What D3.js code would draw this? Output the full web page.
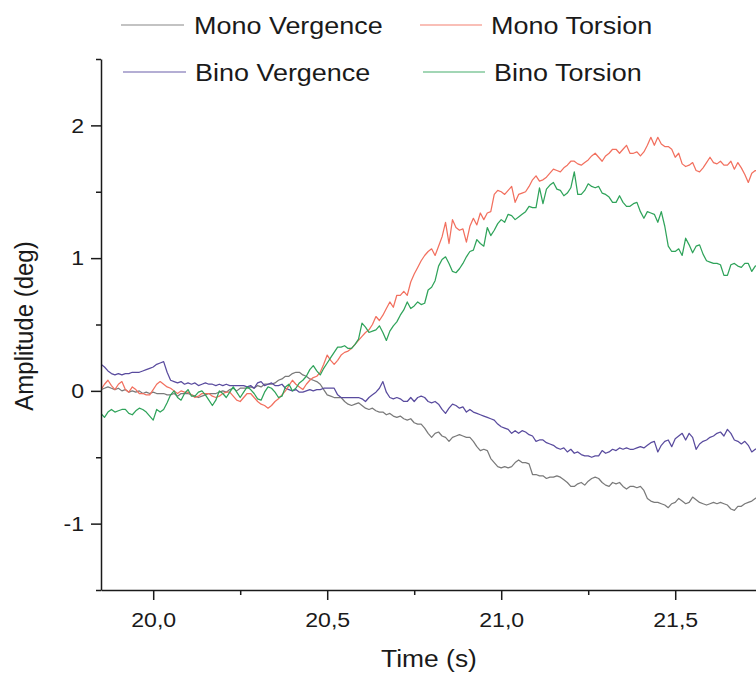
<!DOCTYPE html>
<html><head><meta charset="utf-8">
<script src="https://cdn.jsdelivr.net/npm/d3@7"></script>
<style>
html,body{margin:0;padding:0;background:#fff;}
svg{display:block;}
text{font-family:"Liberation Sans",Arial,Helvetica,sans-serif;fill:#1a1a1a;}
</style></head><body>
<svg id="chart" width="756" height="673"></svg>
<script>
const START_TIME = 19.85;
const SAMPLE_STEP = 0.01;
const seriesNames = ["Mono Vergence", "Mono Torsion", "Bino Vergence", "Bino Torsion"];

const monoVergence = [
 0.01,0.02,0.03,0.02,0.01,0.02,0.00,0.01,-0.01,0.00,
 -0.01,0.00,-0.02,-0.01,-0.02,-0.01,-0.02,-0.02,-0.02,-0.03,
 -0.03,-0.02,-0.04,-0.02,-0.02,-0.02,-0.03,-0.04,-0.05,-0.04,
 -0.03,-0.02,-0.02,-0.02,-0.01,0.00,-0.01,0.01,0.02,0.00,
 0.02,0.02,0.02,0.03,0.02,0.04,0.03,0.05,0.05,0.05,
 0.06,0.08,0.09,0.11,0.11,0.13,0.14,0.14,0.12,0.11,
 0.09,0.08,0.07,0.05,0.01,-0.03,-0.04,-0.05,-0.05,-0.05,
 -0.08,-0.10,-0.11,-0.10,-0.09,-0.11,-0.13,-0.14,-0.13,-0.15,
 -0.16,-0.16,-0.18,-0.17,-0.19,-0.20,-0.19,-0.21,-0.22,-0.21,
 -0.24,-0.25,-0.25,-0.28,-0.32,-0.35,-0.32,-0.31,-0.34,-0.35,
 -0.38,-0.35,-0.34,-0.33,-0.34,-0.35,-0.35,-0.38,-0.42,-0.45,
 -0.44,-0.45,-0.51,-0.54,-0.57,-0.58,-0.57,-0.58,-0.57,-0.54,
 -0.52,-0.54,-0.54,-0.55,-0.63,-0.63,-0.64,-0.64,-0.66,-0.65,
 -0.65,-0.64,-0.65,-0.67,-0.69,-0.72,-0.72,-0.70,-0.69,-0.71,
 -0.68,-0.66,-0.65,-0.66,-0.69,-0.71,-0.72,-0.69,-0.70,-0.69,
 -0.72,-0.74,-0.72,-0.72,-0.73,-0.72,-0.75,-0.81,-0.83,-0.84,
 -0.84,-0.85,-0.86,-0.88,-0.85,-0.84,-0.81,-0.83,-0.85,-0.84,
 -0.80,-0.82,-0.84,-0.85,-0.86,-0.85,-0.84,-0.85,-0.84,-0.85,
 -0.86,-0.89,-0.90,-0.87,-0.87,-0.85,-0.84,-0.83,-0.81,-0.80
];
const monoTorsion = [
 0.01,0.05,0.08,0.04,0.01,0.05,0.07,0.01,-0.01,0.03,
 0.01,-0.02,-0.02,-0.03,-0.03,0.01,0.05,0.07,0.05,0.03,
 0.02,0.00,-0.02,0.00,-0.01,-0.01,-0.03,-0.05,-0.04,-0.02,
 -0.02,-0.02,-0.04,-0.05,-0.04,-0.02,-0.01,-0.01,-0.04,-0.07,
 -0.08,-0.05,-0.02,-0.02,-0.05,-0.08,-0.10,-0.11,-0.13,-0.11,
 -0.08,-0.06,-0.03,0.00,0.04,0.08,0.05,0.03,0.01,0.05,
 0.08,0.10,0.11,0.14,0.20,0.27,0.23,0.20,0.23,0.27,
 0.29,0.30,0.32,0.35,0.38,0.41,0.44,0.46,0.50,0.56,
 0.53,0.57,0.62,0.67,0.63,0.72,0.72,0.75,0.72,0.82,
 0.88,0.93,0.98,1.02,1.05,1.07,1.02,1.09,1.16,1.27,
 1.11,1.29,1.23,1.21,1.22,1.12,1.24,1.30,1.25,1.34,
 1.29,1.34,1.35,1.48,1.51,1.50,1.48,1.51,1.54,1.42,
 1.48,1.49,1.50,1.54,1.59,1.62,1.58,1.59,1.61,1.64,
 1.67,1.66,1.65,1.68,1.70,1.73,1.73,1.71,1.70,1.72,
 1.74,1.77,1.79,1.76,1.73,1.77,1.79,1.82,1.82,1.79,
 1.82,1.85,1.79,1.79,1.80,1.77,1.80,1.85,1.91,1.85,
 1.91,1.86,1.84,1.84,1.82,1.76,1.79,1.71,1.69,1.70,
 1.72,1.66,1.65,1.68,1.72,1.76,1.72,1.71,1.73,1.70,
 1.70,1.73,1.67,1.72,1.68,1.63,1.57,1.64,1.66,1.65
];
const binoVergence = [
 0.20,0.18,0.15,0.13,0.12,0.13,0.12,0.13,0.13,0.14,
 0.14,0.14,0.15,0.16,0.17,0.18,0.20,0.21,0.22,0.14,
 0.08,0.07,0.06,0.07,0.05,0.06,0.05,0.06,0.04,0.05,
 0.06,0.05,0.05,0.04,0.05,0.04,0.05,0.04,0.04,0.04,
 0.04,0.04,0.03,0.04,0.02,0.06,0.07,0.04,0.05,0.06,
 0.04,0.04,0.05,0.02,0.01,0.00,0.01,-0.01,-0.01,0.00,
 0.01,0.00,0.01,0.01,0.02,0.02,0.02,0.02,-0.03,-0.05,
 -0.05,-0.05,-0.05,-0.05,-0.05,-0.06,-0.08,-0.05,-0.03,-0.01,
 0.02,0.07,-0.01,-0.05,-0.06,-0.05,-0.06,-0.08,-0.08,-0.05,
 -0.08,-0.05,-0.04,-0.05,-0.08,-0.09,-0.08,-0.10,-0.14,-0.17,
 -0.13,-0.10,-0.11,-0.13,-0.12,-0.16,-0.14,-0.16,-0.17,-0.18,
 -0.19,-0.20,-0.21,-0.22,-0.25,-0.27,-0.28,-0.29,-0.32,-0.30,
 -0.32,-0.30,-0.31,-0.33,-0.34,-0.38,-0.37,-0.37,-0.39,-0.40,
 -0.41,-0.43,-0.44,-0.43,-0.46,-0.44,-0.47,-0.46,-0.48,-0.49,
 -0.49,-0.50,-0.49,-0.49,-0.45,-0.47,-0.46,-0.44,-0.45,-0.43,
 -0.44,-0.43,-0.44,-0.44,-0.43,-0.42,-0.43,-0.41,-0.39,-0.38,
 -0.46,-0.41,-0.38,-0.37,-0.42,-0.36,-0.34,-0.32,-0.37,-0.32,
 -0.35,-0.44,-0.40,-0.38,-0.37,-0.35,-0.34,-0.32,-0.31,-0.34,
 -0.29,-0.32,-0.37,-0.38,-0.40,-0.38,-0.41,-0.46,-0.44,-0.43
];
const binoTorsion = [
 -0.17,-0.20,-0.16,-0.14,-0.16,-0.15,-0.14,-0.14,-0.17,-0.18,
 -0.15,-0.13,-0.14,-0.16,-0.19,-0.22,-0.14,-0.16,-0.14,-0.09,
 -0.03,0.00,-0.05,-0.07,-0.02,0.01,-0.04,-0.04,-0.01,0.00,
 -0.03,-0.07,-0.11,-0.07,0.00,-0.02,-0.05,-0.01,0.03,-0.01,
 -0.05,-0.01,0.03,0.01,-0.02,-0.06,-0.07,-0.01,0.03,0.02,
 -0.01,-0.05,-0.04,0.03,0.05,0.00,0.02,0.06,0.08,0.11,
 0.16,0.19,0.15,0.12,0.17,0.21,0.25,0.29,0.33,0.33,
 0.34,0.32,0.32,0.35,0.39,0.51,0.48,0.44,0.45,0.46,
 0.49,0.44,0.38,0.45,0.49,0.52,0.57,0.61,0.67,0.62,
 0.64,0.67,0.65,0.66,0.76,0.78,0.83,0.94,0.99,1.01,
 0.96,0.90,0.89,0.92,0.96,1.01,1.05,1.06,1.14,1.11,
 1.09,1.23,1.17,1.21,1.26,1.29,1.27,1.33,1.32,1.29,
 1.31,1.33,1.35,1.39,1.38,1.38,1.53,1.41,1.52,1.55,
 1.57,1.52,1.51,1.47,1.49,1.53,1.65,1.48,1.48,1.51,
 1.56,1.54,1.53,1.54,1.49,1.48,1.46,1.42,1.42,1.47,
 1.42,1.39,1.39,1.41,1.42,1.35,1.30,1.35,1.34,1.33,
 1.27,1.35,1.24,1.09,1.05,1.05,1.07,1.02,1.15,1.10,
 1.04,1.09,1.10,1.03,0.98,0.97,0.96,0.96,0.95,0.87,
 0.87,0.95,0.96,0.94,0.93,0.96,0.96,0.90,0.94,0.95
];

const xTickValues = [20.0, 20.5, 21.0, 21.5];
const xMinorTickValues = [20.25, 20.75, 21.25];
const yTickValues = [-1, 0, 1, 2];
const yMinorTickValues = [-1.5, -0.5, 0.5, 1.5, 2.5];
const xTitle = "Time (s)";
const yTitle = "Amplitude (deg)";

// ---- layout / style ----
const W = 756, H = 673;
const SX = 1.1; // horizontal text stretch seen in the reference
const colors = ["#7a7a7a", "#f2705f", "#594b9e", "#2fa35a"];
const seriesValues = [monoVergence, monoTorsion, binoVergence, binoTorsion];

const svg = d3.select("#chart");
const x = d3.scaleLinear().domain([19.85, 21.735]).range([101, 757]);
const y = d3.scaleLinear().domain([-1.5, 2.5]).range([590, 59]);

svg.append("defs").append("clipPath").attr("id", "clip")
  .append("rect").attr("x", 101).attr("y", 0).attr("width", W - 101).attr("height", 590);

const line = d3.line()
  .x((d, i) => x(START_TIME + i * SAMPLE_STEP))
  .y(d => y(d));

const drawOrder = [0, 2, 1, 3];
svg.append("g").attr("clip-path", "url(#clip)")
  .selectAll("path").data(drawOrder).join("path")
  .attr("d", k => line(seriesValues[k]))
  .attr("fill", "none")
  .attr("stroke", k => colors[k])
  .attr("stroke-width", 1.25)
  .attr("stroke-linejoin", "round");

function stretchText(sel) {
  sel.selectAll("text").each(function () {
    const t = d3.select(this);
    const tx = +t.attr("x") || 0, ty = +t.attr("y") || 0;
    t.attr("x", 0).attr("y", 0).attr("transform", `translate(${tx},${ty}) scale(${SX},1)`);
  });
}
function styleAxis(g) {
  g.selectAll(".domain, .tick line").attr("stroke", "#1a1a1a").attr("stroke-width", 1.5);
  g.selectAll("text").attr("font-family", '"Liberation Sans", Arial, sans-serif').attr("fill", "#1a1a1a");
}
const fmt = d => d3.format(".1f")(d).replace(".", ",");

// x axis
const gx = svg.append("g").attr("transform", "translate(0,590)")
  .call(d3.axisBottom(x).tickValues(xTickValues).tickSize(10).tickSizeOuter(0).tickPadding(12).tickFormat(fmt));
gx.selectAll("text").attr("font-size", 21);
styleAxis(gx); stretchText(gx);
const gxm = svg.append("g").attr("transform", "translate(0,590)")
  .call(d3.axisBottom(x).tickValues(xMinorTickValues).tickSize(5).tickSizeOuter(0).tickFormat(""));
gxm.select(".domain").remove();
styleAxis(gxm);

// y axis
const gy = svg.append("g").attr("transform", "translate(101,0)")
  .call(d3.axisLeft(y).tickValues(yTickValues).tickSize(10).tickSizeOuter(0).tickPadding(7).tickFormat(d => String(d)));
gy.selectAll("text").attr("font-size", 21);
styleAxis(gy); stretchText(gy);
const gym = svg.append("g").attr("transform", "translate(101,0)")
  .call(d3.axisLeft(y).tickValues(yMinorTickValues).tickSize(5).tickSizeOuter(0).tickFormat(""));
gym.select(".domain").remove();
styleAxis(gym);

// titles
svg.append("text").attr("transform", `translate(429,667) scale(${SX},1)`)
  .attr("text-anchor", "middle").attr("font-size", 24).text(xTitle);
svg.append("text").attr("transform", `translate(33,326) scale(${SX},1) rotate(-90)`)
  .attr("text-anchor", "middle").attr("font-size", 24).text(yTitle);

// legend
const legendPos = [
  {x1: 121, x2: 184, tx: 194, y: 25},
  {x1: 420, x2: 482, tx: 491, y: 25},
  {x1: 123, x2: 186, tx: 195, y: 72},
  {x1: 423, x2: 485, tx: 494, y: 72}
];
const lg = svg.append("g").selectAll("g").data(seriesNames).join("g");
lg.append("line")
  .attr("x1", (d, i) => legendPos[i].x1).attr("x2", (d, i) => legendPos[i].x2)
  .attr("y1", (d, i) => legendPos[i].y).attr("y2", (d, i) => legendPos[i].y)
  .attr("stroke", (d, i) => colors[i]).attr("stroke-width", 1.6).attr("stroke-opacity", 0.6);
lg.append("text")
  .attr("transform", (d, i) => `translate(${legendPos[i].tx},${legendPos[i].y + 8.8}) scale(${SX},1)`)
  .attr("font-size", 24.5).text(d => d);
</script>
</body></html>
